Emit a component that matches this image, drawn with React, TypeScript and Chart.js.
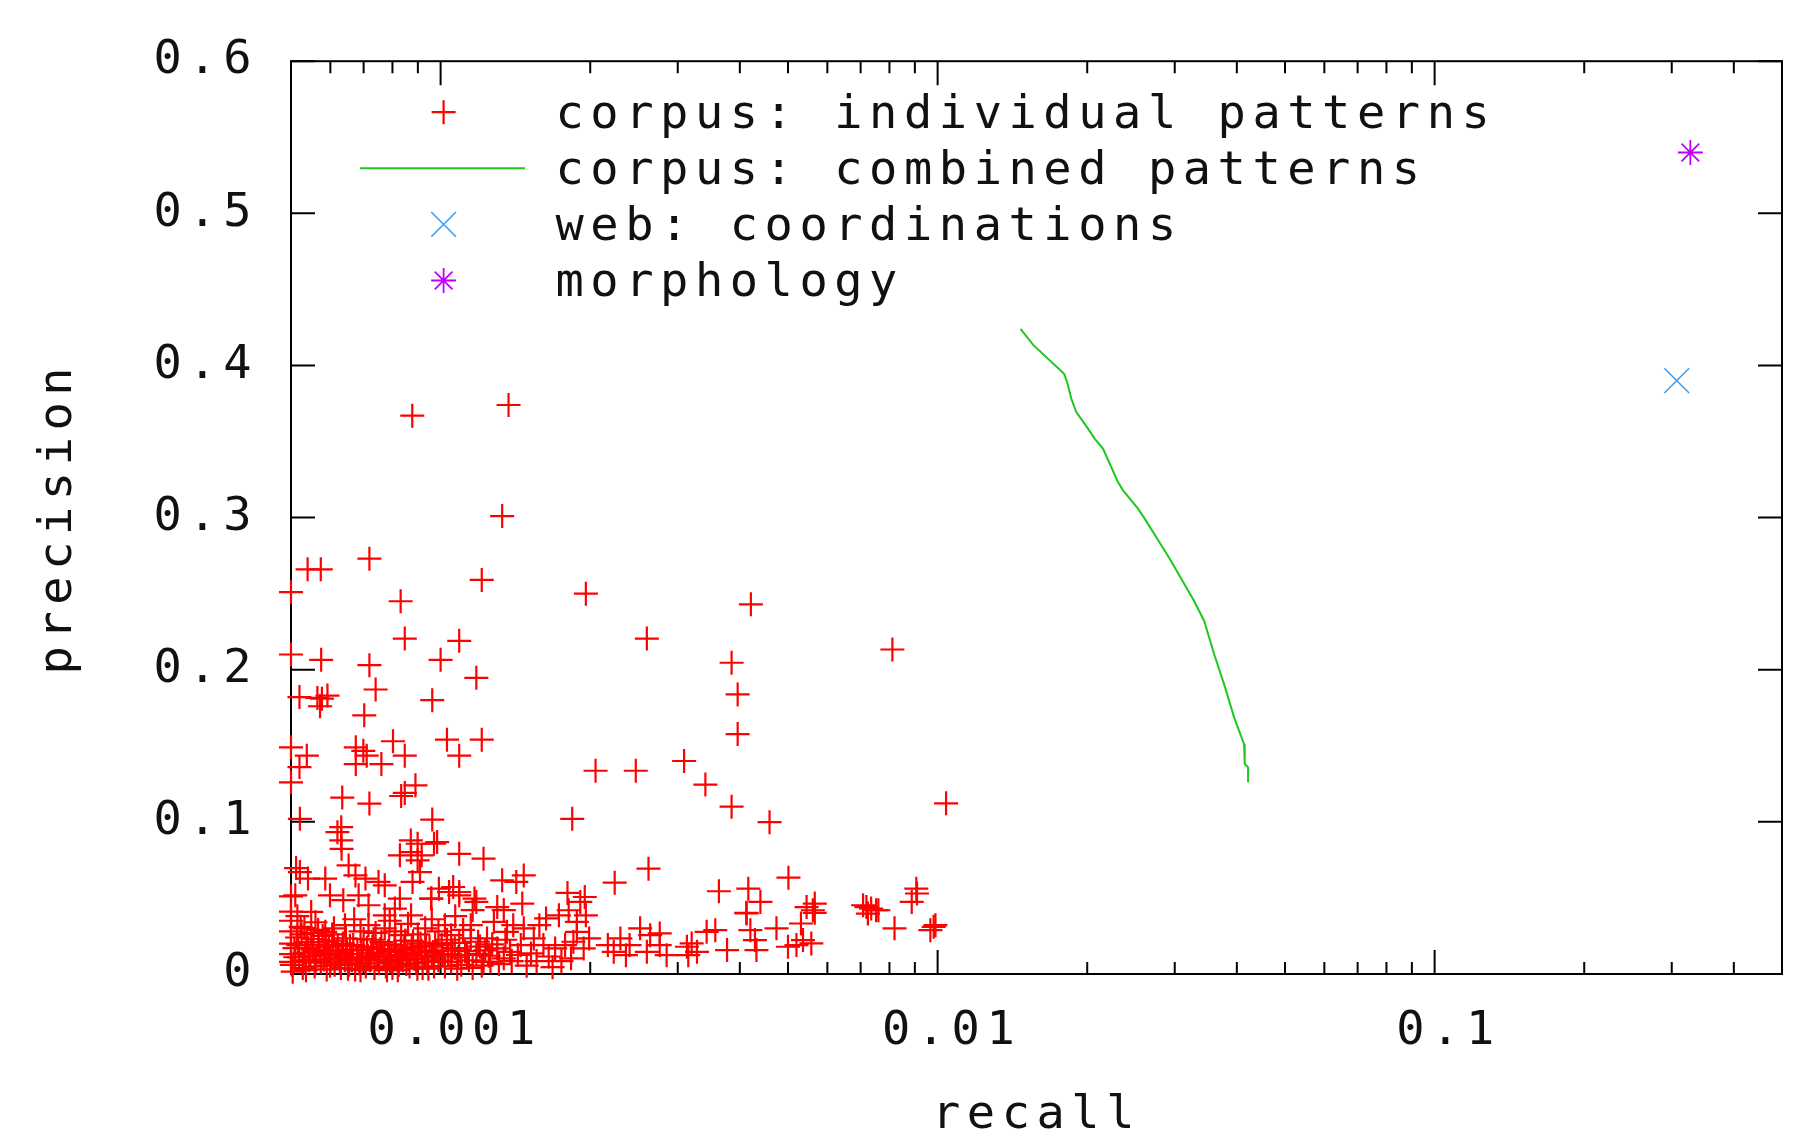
import React, { useEffect, useRef } from "react";
import { Chart, registerables } from "chart.js";
import { drawPoint } from "chart.js/helpers";

Chart.register(...registerables);

// ---------- data ----------
const SERIES_LABELS = [
  "corpus: individual patterns",
  "corpus: combined patterns",
  "web: coordinations",
  "morphology",
];
const SERIES_COLORS = ["#ff0000", "#1ec81e", "#3d9ef5", "#c000ff"];

const X_MIN = 0.0005;
const X_MAX = 0.5;
const Y_MIN = 0;
const Y_MAX = 0.6;

const X_TICK_DECADES = [0.0001, 0.001, 0.01, 0.1];
const X_TICK_MANTISSAS = [1, 2, 3, 4, 5, 6, 7, 8, 9];
const X_LABEL_VALUES = [0.001, 0.01, 0.1];
const X_LABEL_TEXT = ["0.001", "0.01", "0.1"];

const Y_TICK_VALUES = [0, 0.1, 0.2, 0.3, 0.4, 0.5, 0.6];
const Y_TICK_LABELS = ["0", "0.1", "0.2", "0.3", "0.4", "0.5", "0.6"];

const AXIS_TITLE_X = "recall";
const AXIS_TITLE_Y = "precision";

// corpus: individual patterns  [recall, precision]
const INDIVIDUAL_PATTERNS: [number, number][] = [
  [0.000877, 0.367], [0.00137, 0.374], [0.00133, 0.301], [0.00054, 0.266], [0.000574, 0.266],
  [0.000719, 0.273], [0.0005, 0.251], [0.000831, 0.245], [0.00121, 0.259], [0.00196, 0.25],
  [0.00421, 0.243], [0.0026, 0.2205], [0.000847, 0.2205], [0.00109, 0.219], [0.0005, 0.21],
  [0.000575, 0.2065], [0.000719, 0.203], [0.001, 0.2065], [0.00118, 0.1947], [0.00811, 0.2133],
  [0.00385, 0.2046], [0.00396, 0.1838], [0.00396, 0.1577], [0.00052, 0.182], [0.000577, 0.181],
  [0.000592, 0.183], [0.000572, 0.176], [0.000565, 0.1815], [0.00074, 0.187], [0.000962, 0.18],
  [0.000702, 0.17], [0.0005, 0.149], [0.000538, 0.1435], [0.00052, 0.136], [0.0005, 0.126],
  [0.000675, 0.149], [0.000699, 0.1467], [0.00071, 0.1435], [0.000675, 0.138], [0.00076, 0.138],
  [0.000802, 0.153], [0.000847, 0.1435], [0.00103, 0.154], [0.00109, 0.1435], [0.00121, 0.154],
  [0.00205, 0.1336], [0.00247, 0.1336], [0.00309, 0.14], [0.00341, 0.1245], [0.00385, 0.11],
  [0.00459, 0.0998], [0.0104, 0.1122], [0.00184, 0.102], [0.000634, 0.116], [0.000719, 0.112],
  [0.000833, 0.117], [0.000847, 0.119], [0.00089, 0.124], [0.000521, 0.102], [0.000962, 0.1015],
  [0.00062, 0.0932], [0.000631, 0.0965], [0.000631, 0.0878], [0.000871, 0.0878], [0.000899, 0.0856],
  [0.000984, 0.0867],
  [0.00262, 0.0692], [0.00224, 0.06], [0.00147, 0.0648], [0.00142, 0.0605], [0.00133, 0.0616],
  [0.00122, 0.0758], [0.00109, 0.079], [0.00097, 0.0856], [0.000828, 0.078], [0.000899, 0.0747],
  [0.000878, 0.0605], [0.000957, 0.0496], [0.00118, 0.0474], [0.00109, 0.0539], [0.00106, 0.0572],
  [0.00501, 0.0633], [0.00363, 0.0544], [0.00416, 0.0561], [0.0044, 0.0474], [0.00412, 0.0402],
  [0.00545, 0.044], [0.00566, 0.0463], [0.00566, 0.0402], [0.00531, 0.0332], [0.00561, 0.0419],
  [0.00719, 0.044], [0.00735, 0.043], [0.00752, 0.0419], [0.00708, 0.0452], [0.00724, 0.0397],
  [0.0076, 0.0419], [0.00819, 0.03], [0.00906, 0.0561], [0.00887, 0.0474], [0.00909, 0.0529],
  [0.00967, 0.0288], [0.0099, 0.0321], [0.00982, 0.031],
  [0.00276, 0.0267], [0.00285, 0.0124], [0.00313, 0.0179], [0.0032, 0.0201], [0.00315, 0.0124],
  [0.00328, 0.0146], [0.00343, 0.0277], [0.00357, 0.0288], [0.00377, 0.0157], [0.00413, 0.0398],
  [0.0042, 0.0288], [0.00429, 0.0223], [0.00432, 0.0157], [0.00474, 0.03], [0.005, 0.0179],
  [0.0052, 0.019], [0.00536, 0.0223], [0.00557, 0.0201],
  [0.00195, 0.0506], [0.00191, 0.0474], [0.00196, 0.0386], [0.00188, 0.0343], [0.00181, 0.0419],
  [0.00173, 0.0386], [0.00163, 0.0365], [0.00158, 0.0321], [0.00188, 0.0277], [0.00185, 0.0212],
  [0.00199, 0.0234], [0.00194, 0.0168], [0.00183, 0.0103], [0.00178, 0.019], [0.0017, 0.0168],
  [0.00161, 0.019], [0.00154, 0.0234], [0.00147, 0.03], [0.0014, 0.0321], [0.00136, 0.0277],
  [0.00128, 0.0343], [0.00124, 0.0234], [0.0013, 0.0168], [0.00134, 0.0103], [0.00138, 0.0146],
  [0.00145, 0.019], [0.00126, 0.008], [0.0023, 0.0234], [0.0024, 0.019], [0.00252, 0.03],
  [0.00264, 0.0255], [0.0026, 0.0146], [0.00276, 0.019], [0.00217, 0.019], [0.00223, 0.0146],
  [0.00236, 0.0124], [0.00146, 0.0463], [0.0013, 0.044], [0.00134, 0.042], [0.0018, 0.0533],
  [0.000632, 0.0823], [0.000872, 0.0801], [0.000916, 0.078], [0.000521, 0.067], [0.000541, 0.0627],
  [0.000586, 0.0627], [0.000653, 0.0714], [0.000674, 0.0648], [0.000706, 0.0627], [0.00075, 0.0605],
  [0.000772, 0.0583], [0.000909, 0.067], [0.000992, 0.0561], [0.00104, 0.0539], [0.00109, 0.0517],
  [0.00117, 0.0496], [0.000958, 0.0496], [0.000828, 0.0496], [0.000809, 0.043], [0.000872, 0.0386],
  [0.000599, 0.0517], [0.000637, 0.0485], [0.000684, 0.0517], [0.000716, 0.0452], [0.000772, 0.0386],
  [0.00051, 0.0517], [0.000549, 0.0408], [0.000532, 0.03], [0.000586, 0.0277], [0.000642, 0.0321],
  [0.000716, 0.0321], [0.000772, 0.03], [0.000833, 0.0255], [0.000931, 0.03], [0.00102, 0.0321],
  [0.00105, 0.0255], [0.00115, 0.0321], [0.00119, 0.0212],
  [0.0005, 0.051], [0.0005, 0.041], [0.0005, 0.035], [0.0005, 0.028], [0.0005, 0.02],
  [0.0005, 0.013], [0.0005, 0.008], [0.000512, 0.0696],
  [0.000502, 0.006], [0.000508, 0.017], [0.000514, 0.024], [0.000519, 0.011], [0.000523, 0.031],
  [0.000528, 0.004], [0.000533, 0.014], [0.000538, 0.021], [0.000544, 0.009], [0.000549, 0.027],
  [0.000553, 0.016], [0.000558, 0.005], [0.000563, 0.012], [0.000569, 0.019], [0.000574, 0.008],
  [0.000579, 0.025], [0.000585, 0.013], [0.00059, 0.003], [0.000596, 0.018], [0.000601, 0.01],
  [0.000607, 0.022], [0.000612, 0.006], [0.000618, 0.015], [0.000624, 0.012], [0.00063, 0.004],
  [0.000636, 0.02], [0.000642, 0.009], [0.000648, 0.016], [0.000654, 0.006], [0.00066, 0.013],
  [0.000667, 0.019], [0.000673, 0.003], [0.000679, 0.011], [0.000686, 0.007], [0.000693, 0.016],
  [0.0007, 0.023], [0.000707, 0.005], [0.000714, 0.012], [0.000721, 0.009], [0.000729, 0.018],
  [0.000736, 0.004], [0.000744, 0.014], [0.000752, 0.007], [0.00076, 0.021], [0.000768, 0.011],
  [0.000776, 0.005], [0.000784, 0.015], [0.000792, 0.008], [0.0008, 0.004], [0.000808, 0.019],
  [0.000816, 0.011], [0.000824, 0.006], [0.000832, 0.016], [0.00084, 0.009], [0.000849, 0.022],
  [0.000858, 0.013], [0.000866, 0.005], [0.000875, 0.017], [0.000884, 0.01], [0.000893, 0.007],
  [0.000902, 0.014], [0.000911, 0.02], [0.00092, 0.004], [0.00093, 0.012], [0.00094, 0.008],
  [0.00095, 0.018], [0.00096, 0.011], [0.00097, 0.005], [0.00098, 0.015],
  [0.00099, 0.009], [0.001005, 0.019], [0.00102, 0.005], [0.001035, 0.013], [0.00105, 0.008],
  [0.001068, 0.017], [0.001085, 0.011], [0.0011, 0.006], [0.00112, 0.015], [0.00114, 0.009],
  [0.00116, 0.004], [0.00118, 0.013], [0.0012, 0.018], [0.00122, 0.008], [0.00125, 0.012],
  [0.000515, 0.038], [0.00056, 0.034], [0.00061, 0.03], [0.00067, 0.036], [0.00069, 0.028],
  [0.00074, 0.027], [0.00079, 0.035], [0.00081, 0.028], [0.00086, 0.033], [0.0009, 0.026],
  [0.00096, 0.036], [0.00099, 0.028], [0.00107, 0.038], [0.00111, 0.029], [0.00116, 0.042],
  [0.000504, 0.0015], [0.00051, 0.011], [0.000517, 0.019], [0.000525, 0.026], [0.00053, 0.009],
  [0.000536, 0.0025], [0.000542, 0.017], [0.000547, 0.012], [0.000555, 0.023], [0.00056, 0.0075],
  [0.000567, 0.029], [0.000571, 0.0145], [0.000582, 0.0095], [0.000588, 0.021], [0.000593, 0.0155],
  [0.000599, 0.0055], [0.000605, 0.026], [0.000615, 0.0105], [0.000621, 0.019], [0.000627, 0.0075],
  [0.000633, 0.0135], [0.000645, 0.0235], [0.000651, 0.0035], [0.000657, 0.0185], [0.000663, 0.009],
  [0.00068, 0.0155], [0.00069, 0.0025], [0.000697, 0.0105], [0.000711, 0.0175], [0.000725, 0.0135],
  [0.000733, 0.0225], [0.000748, 0.0095], [0.000756, 0.0165], [0.000771, 0.0125], [0.00078, 0.0025],
  [0.000788, 0.0195], [0.000796, 0.0115], [0.000812, 0.0145], [0.00082, 0.0025], [0.000828, 0.0095],
  [0.000845, 0.0175], [0.000853, 0.0065], [0.00087, 0.0125], [0.00088, 0.0215], [0.000898, 0.0035],
  [0.000915, 0.0155], [0.000935, 0.0185], [0.000945, 0.0035], [0.000965, 0.0145], [0.000975, 0.0205],
  [0.00101, 0.0125], [0.00103, 0.0225], [0.001055, 0.0155], [0.00108, 0.0035], [0.00109, 0.0205],
  [0.00113, 0.0125], [0.00115, 0.0235], [0.00121, 0.0055], [0.00123, 0.0155], [0.00127, 0.0195],
  [0.00131, 0.0065], [0.00135, 0.0225], [0.00139, 0.0085], [0.00143, 0.0125], [0.00149, 0.0055],
  [0.00152, 0.0135], [0.00156, 0.0085], [0.00165, 0.0115], [0.00168, 0.0045], [0.00175, 0.0085],
];

// corpus: combined patterns
const COMBINED_RECALL = [
  0.01468, 0.01557, 0.01797, 0.01822, 0.01858, 0.01901, 0.02007, 0.0207, 0.02151, 0.02305,
  0.02359, 0.02528, 0.02608, 0.02815, 0.02927, 0.03088, 0.03284, 0.0344, 0.03602, 0.03772,
  0.03951, 0.04137, 0.04149, 0.04214, 0.04214,
];
const COMBINED_PRECISION = [
  0.424, 0.4135, 0.3945, 0.3891, 0.3781, 0.3694, 0.3585, 0.3519, 0.3454, 0.3236,
  0.3181, 0.3061, 0.2995, 0.2821, 0.2733, 0.2602, 0.245, 0.2319, 0.21, 0.1904,
  0.1685, 0.1511, 0.138, 0.1358, 0.126,
];

const WEB_RECALL = [0.307];
const WEB_PRECISION = [0.39];
const MORPH_RECALL = [0.327];
const MORPH_PRECISION = [0.54];

// ---------- style ----------
const FONT_FAMILY = '"DejaVu Sans Mono", monospace';
const FONT_SIZE = 47;
const LETTER_SPACING = "6.55px";
const TEXT_COLOR = "#111";
const MAJOR_TICK = 24;
const MINOR_TICK = 12;

const isPow10 = (v: number) => Math.abs(Math.log10(v) - Math.round(Math.log10(v))) < 1e-6;

const X_TICK_VALUES: number[] = [];
X_TICK_DECADES.forEach((d) =>
  X_TICK_MANTISSAS.forEach((m) => {
    const v = Number((m * d).toPrecision(6));
    if (v >= X_MIN * 0.9999 && v <= X_MAX * 1.0001) X_TICK_VALUES.push(v);
  })
);

const spacingPlugin = {
  id: "letterSpacing",
  beforeUpdate(chart: any) {
    (chart.ctx as any).letterSpacing = LETTER_SPACING;
  },
  beforeDraw(chart: any) {
    (chart.ctx as any).letterSpacing = LETTER_SPACING;
  },
};

const framePlugin = {
  id: "gnuplotFrame",
  beforeDatasetsDraw(chart: any) {
    const { ctx, chartArea: a } = chart;
    const xs = chart.scales.x;
    const ys = chart.scales.y;
    ctx.save();
    ctx.strokeStyle = "#000";
    ctx.lineWidth = 2;
    ctx.beginPath();
    for (const t of ys.ticks) {
      const p = ys.getPixelForValue(t.value);
      ctx.moveTo(a.left, p);
      ctx.lineTo(a.left + MAJOR_TICK, p);
      ctx.moveTo(a.right, p);
      ctx.lineTo(a.right - MAJOR_TICK, p);
    }
    for (const t of xs.ticks) {
      const p = xs.getPixelForValue(t.value);
      const len = isPow10(t.value) ? MAJOR_TICK : MINOR_TICK;
      ctx.moveTo(p, a.bottom);
      ctx.lineTo(p, a.bottom - len);
      ctx.moveTo(p, a.top);
      ctx.lineTo(p, a.top + len);
    }
    ctx.stroke();
    ctx.strokeRect(a.left, a.top, a.right - a.left, a.bottom - a.top);
    ctx.restore();
  },
};

const LEGEND_TOP = 51;
const LEGEND_STEP = 56.1;
const LEGEND_SYMBOL_X = 152.6;
const LEGEND_LINE_START = 69;
const LEGEND_LINE_END = 234;
const LEGEND_TEXT_X = 264.5;
const LEGEND_BASELINE_SHIFT = 15.3;

const legendPlugin = {
  id: "gnuplotLegend",
  afterDatasetsDraw(chart: any) {
    const { ctx, chartArea: a } = chart;
    ctx.save();
    (ctx as any).letterSpacing = LETTER_SPACING;
    ctx.font = `${FONT_SIZE}px ${FONT_FAMILY}`;
    ctx.textAlign = "left";
    ctx.textBaseline = "alphabetic";
    chart.data.datasets.forEach((ds: any, i: number) => {
      const y = a.top + LEGEND_TOP + i * LEGEND_STEP;
      if (ds.showLine) {
        ctx.strokeStyle = ds.borderColor;
        ctx.lineWidth = ds.borderWidth;
        ctx.beginPath();
        ctx.moveTo(a.left + LEGEND_LINE_START, y);
        ctx.lineTo(a.left + LEGEND_LINE_END, y);
        ctx.stroke();
      } else {
        ctx.strokeStyle = ds.pointBorderColor;
        ctx.fillStyle = ds.pointBorderColor;
        ctx.lineWidth = ds.pointBorderWidth;
        drawPoint(
          ctx,
          { pointStyle: ds.pointStyle, radius: ds.pointRadius, borderWidth: ds.pointBorderWidth, rotation: 0 } as any,
          a.left + LEGEND_SYMBOL_X,
          y
        );
      }
      ctx.fillStyle = TEXT_COLOR;
      ctx.fillText(ds.label, a.left + LEGEND_TEXT_X, y + LEGEND_BASELINE_SHIFT);
    });
    ctx.restore();
  },
};

const tickFont = { family: FONT_FAMILY, size: FONT_SIZE, lineHeight: 1.2 };
const titleFont = { family: FONT_FAMILY, size: FONT_SIZE, lineHeight: 1 };

export default function App() {
  const ref = useRef<HTMLCanvasElement>(null);
  useEffect(() => {
    document.body.style.margin = "0";
    const chart = new Chart(ref.current as HTMLCanvasElement, {
      type: "scatter",
      data: {
        datasets: [
          {
            label: SERIES_LABELS[0],
            data: INDIVIDUAL_PATTERNS.map(([x, y]) => ({ x, y })),
            pointStyle: "cross",
            pointRadius: 12,
            pointBorderWidth: 2.2,
            pointBorderColor: SERIES_COLORS[0],
            pointBackgroundColor: SERIES_COLORS[0],
            clip: false as any,
          },
          {
            label: SERIES_LABELS[1],
            data: COMBINED_RECALL.map((x, i) => ({ x, y: COMBINED_PRECISION[i] })),
            showLine: true,
            borderColor: SERIES_COLORS[1],
            borderWidth: 2,
            pointRadius: 0,
            tension: 0,
            clip: false as any,
          },
          {
            label: SERIES_LABELS[2],
            data: WEB_RECALL.map((x, i) => ({ x, y: WEB_PRECISION[i] })),
            pointStyle: "crossRot",
            pointRadius: 17.5,
            pointBorderWidth: 1.6,
            pointBorderColor: SERIES_COLORS[2],
            pointBackgroundColor: SERIES_COLORS[2],
            clip: false as any,
          },
          {
            label: SERIES_LABELS[3],
            data: MORPH_RECALL.map((x, i) => ({ x, y: MORPH_PRECISION[i] })),
            pointStyle: "star",
            pointRadius: 12.5,
            pointBorderWidth: 1.8,
            pointBorderColor: SERIES_COLORS[3],
            pointBackgroundColor: SERIES_COLORS[3],
            clip: false as any,
          },
        ] as any,
      },
      options: {
        animation: false,
        responsive: true,
        maintainAspectRatio: false,
        events: [],
        layout: { padding: { left: 0, right: 31, top: 58, bottom: 0 } },
        plugins: { legend: { display: false }, tooltip: { enabled: false } },
        scales: {
          x: {
            type: "logarithmic",
            min: X_MIN,
            max: X_MAX,
            afterBuildTicks: (s: any) => {
              s.ticks = X_TICK_VALUES.map((v) => ({ value: v }));
            },
            afterFit: (s: any) => {
              s.height = 165;
            },
            grid: { display: false, drawTicks: false },
            border: { display: false },
            ticks: {
              autoSkip: false,
              maxRotation: 0,
              minRotation: 0,
              padding: 30,
              labelOffset: 14,
              color: TEXT_COLOR,
              font: tickFont,
              callback: (v: any) => {
                const idx = X_LABEL_VALUES.findIndex((lv) => Math.abs(Math.log10(lv) - Math.log10(Number(v))) < 1e-6);
                return idx >= 0 ? X_LABEL_TEXT[idx] : "";
              },
            },
            title: {
              display: true,
              text: AXIS_TITLE_X,
              color: TEXT_COLOR,
              font: titleFont,
              padding: { top: 0, bottom: 0 },
            },
          },
          y: {
            type: "linear",
            min: Y_MIN,
            max: Y_MAX,
            afterBuildTicks: (s: any) => {
              s.ticks = Y_TICK_VALUES.map((v) => ({ value: v }));
            },
            afterFit: (s: any) => {
              s.width = 291;
            },
            grid: { display: false, drawTicks: false },
            border: { display: false },
            ticks: {
              padding: 33,
              color: TEXT_COLOR,
              font: tickFont,
              callback: (v: any) => {
                const idx = Y_TICK_VALUES.findIndex((tv) => Math.abs(tv - Number(v)) < 1e-9);
                return idx >= 0 ? Y_TICK_LABELS[idx] : "";
              },
            },
            title: {
              display: true,
              text: AXIS_TITLE_Y,
              color: TEXT_COLOR,
              font: titleFont,
              padding: { top: 35, bottom: 0 },
            },
          },
        },
      } as any,
      plugins: [spacingPlugin, framePlugin, legendPlugin],
    });
    return () => chart.destroy();
  }, []);
  return (
    <div style={{ width: 1813, height: 1139, position: "relative" }}>
      <canvas ref={ref} />
    </div>
  );
}
